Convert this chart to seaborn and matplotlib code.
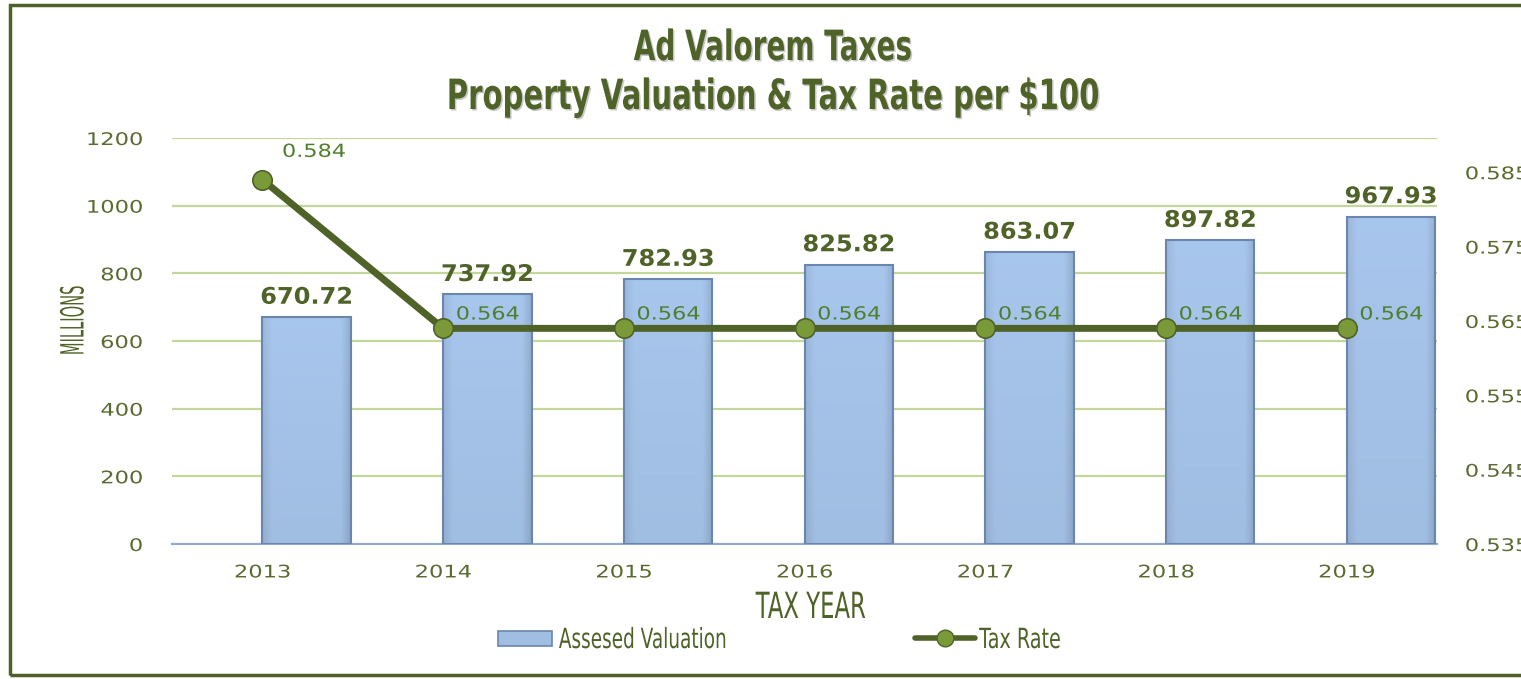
import matplotlib
matplotlib.use("Agg")
import matplotlib.pyplot as plt
from matplotlib.patches import Rectangle
from matplotlib.lines import Line2D
from matplotlib.transforms import Affine2D
import matplotlib.patheffects as pe
import matplotlib.colors as mcolors
import numpy as np
import pandas as pd
import seaborn as sns

# ---- data ----
years = ["2013", "2014", "2015", "2016", "2017", "2018", "2019"]
valuation = [670.72, 737.92, 782.93, 825.82, 863.07, 897.82, 967.93]
tax_rate = [0.584, 0.564, 0.564, 0.564, 0.564, 0.564, 0.564]
left_ticks = [0, 200, 400, 600, 800, 1000, 1200]
right_ticks = [0.535, 0.545, 0.555, 0.565, 0.575, 0.585]

sns.set_theme(style="white")
plt.rcParams["font.family"] = ["DejaVu Sans"]

OLIVE = "#4f6228"
TICK = "#5a6a30"
GRID = "#c4d79b"
BAR = "#a0bde2"
BAR_EDGE = "#6a86ad"
RATE_LBL = "#4f7f2c"
MARKER = "#7a9a3a"


class StretchX(pe.AbstractPathEffect):
    """Draw text scaled horizontally about an anchor, optionally with a drop shadow."""

    def __init__(self, sx, anchor="center", shadow=None):
        super().__init__()
        self.sx = sx
        self.anchor = anchor
        self.shadow = shadow

    def draw_path(self, renderer, gc, tpath, affine, rgbFace=None):
        xs = tpath.vertices[:, 0]
        if len(xs) == 0:
            return
        if self.anchor == "left":
            cx = 0.0
        elif self.anchor == "right":
            cx = xs.max()
        else:
            cx = 0.5 * (xs.min() + xs.max())
        aff = Affine2D().translate(-cx, 0).scale(self.sx, 1).translate(cx, 0) + affine
        if self.shadow is not None:
            g = renderer.new_gc()
            g.copy_properties(gc)
            g.set_alpha(0.55)
            renderer.draw_path(g, tpath, aff + Affine2D().translate(1.5, -1.5),
                               mcolors.to_rgba(self.shadow))
            g.restore()
        renderer.draw_path(gc, tpath, aff, rgbFace)


df = pd.DataFrame({"year": years, "valuation": valuation, "rate": tax_rate})

fig = plt.figure(figsize=(15.21, 6.79), dpi=100)
ax = fig.add_axes([172 / 1521, 1 - 544 / 679, (1437 - 172) / 1521, (544 - 138) / 679])

sns.barplot(data=df, x="year", y="valuation", ax=ax, color=BAR, width=0.49,
            edgecolor=BAR_EDGE, linewidth=1.5, saturation=1, zorder=3)

# shaded fill for each bar: lighter towards the top, darker towards the sides
base = np.array(mcolors.to_rgb(BAR))
ny, nx = 120, 60
yy = np.linspace(1, 0, ny)[:, None]
xx = np.linspace(-1, 1, nx)[None, :]
shade = 1 + 0.05 * yy - 0.08 * np.clip(np.abs(xx) - 0.78, 0, None) / 0.22
shade = shade - 0.05 * np.clip(xx - 0.8, 0, None) / 0.2
grad = np.clip(base[None, None, :] * shade[:, :, None], 0, 1)

for p in ax.patches:
    # bars sit to the right of each category centre
    p.set_x(p.get_x() + p.get_width() / 2)
    x0, w, h = p.get_x(), p.get_width(), p.get_height()
    im = ax.imshow(grad, extent=[x0, x0 + w, 0, h], aspect="auto", zorder=3.5,
                   interpolation="bilinear")
    im.set_clip_path(p)
    p.set_facecolor("none")
    p.set_zorder(4)

ax.set_xlim(-0.5, 6.5)
ax.set_ylim(0, 1200)
ax.set_yticks(left_ticks)
ax.set_yticklabels([str(t) for t in left_ticks])
ax.grid(axis="y", color=GRID, linewidth=1.6, zorder=0)
ax.set_axisbelow(True)
for s in ["top", "right", "left"]:
    ax.spines[s].set_visible(False)
ax.spines["bottom"].set_color("#8eaad0")
ax.spines["bottom"].set_linewidth(1.5)
ax.tick_params(axis="y", length=0, pad=21, labelsize=12.5, labelcolor=TICK)
ax.tick_params(axis="x", length=0, pad=14, labelsize=12.5, labelcolor=TICK)
ax.set_xlabel("")
ax.set_ylabel("")
for t in ax.get_yticklabels():
    t.set_path_effects([StretchX(1.3, "right")])
for t in ax.get_xticklabels():
    t.set_path_effects([StretchX(1.3, "center")])

bar_patches = [p for p in ax.patches]
for p, v in zip(bar_patches, valuation):
    ax.annotate(f"{v:.2f}", (p.get_x() + p.get_width() / 2, v),
                xytext=(0, 6), textcoords="offset points", ha="center", va="bottom",
                fontsize=16.5, fontweight="bold", color=OLIVE, zorder=5,
                path_effects=[StretchX(1.05)])

# tax rate on the secondary axis
ax2 = ax.twinx()
xs = np.arange(len(years))
sns.lineplot(x=xs, y=tax_rate, ax=ax2, color=OLIVE, linewidth=5, marker="o",
             markersize=14, markerfacecolor=MARKER, markeredgecolor=OLIVE,
             markeredgewidth=1.2, zorder=6)
ax2.set_ylim(0.535, 0.5896)
ax2.set_yticks(right_ticks)
ax2.set_yticklabels([f"{t:.3f}" for t in right_ticks])
ax2.tick_params(axis="y", length=0, pad=20, labelsize=12.5, labelcolor=TICK)
ax2.grid(False)
for s in ax2.spines.values():
    s.set_visible(False)
ax2.set_xlim(-0.5, 6.5)
for t in ax2.get_yticklabels():
    t.set_path_effects([StretchX(1.3, "left")])

for i, r in enumerate(tax_rate):
    off = (37, 20) if i == 0 else (32, 10)
    ax2.annotate(f"{r:.3f}", (xs[i], r), xytext=off, textcoords="offset points",
                 ha="center", va="center", fontsize=13, color=RATE_LBL, zorder=7,
                 path_effects=[StretchX(1.24)])

title_fx = [StretchX(0.70, "center", shadow="#9a9a9a")]
fig.text(773 / 1521, 1 - 48 / 679, "Ad Valorem Taxes", ha="center", va="center",
         fontsize=30, fontweight="bold", color=OLIVE,
         path_effects=[StretchX(0.67, "center", shadow="#9a9a9a")])
fig.text(773 / 1521, 1 - 97 / 679, "Property Valuation & Tax Rate per $100", ha="center",
         va="center", fontsize=30, fontweight="bold", color=OLIVE, path_effects=title_fx)
fig.text(75 / 1521, 1 - 320 / 679, "MILLIONS", rotation=90, ha="center", va="center",
         fontsize=23, color=OLIVE, path_effects=[StretchX(0.46)])
fig.text(811 / 1521, 1 - 608 / 679, "TAX YEAR", ha="center", va="center",
         fontsize=26, color=OLIVE, path_effects=[StretchX(0.63)])

# legend entries
bar_handle = Rectangle((0, 0), 1, 1, facecolor=BAR, edgecolor=BAR_EDGE, linewidth=1.2)
line_handle = Line2D([0], [0], color=OLIVE, linewidth=4, marker="o", markersize=12,
                     markerfacecolor=MARKER, markeredgecolor=OLIVE)
leg1 = fig.legend([bar_handle], ["Assesed Valuation"], loc="center left",
                  bbox_to_anchor=(498 / 1521, 1 - 640 / 679), frameon=False,
                  borderpad=0, borderaxespad=0, handlelength=1.94, handleheight=0.45,
                  handletextpad=0.25, prop={"size": 20})
leg2 = fig.legend([line_handle], ["Tax Rate"], loc="center left",
                  bbox_to_anchor=(915 / 1521, 1 - 640 / 679), frameon=False,
                  borderpad=0, borderaxespad=0, handlelength=2.16,
                  handletextpad=0.15, prop={"size": 20})
for lg, sx in ((leg1, 0.665), (leg2, 0.69)):
    for t in lg.get_texts():
        t.set_color(OLIVE)
        t.set_path_effects([StretchX(sx, "left")])

# outer frame
fig.patches.append(Rectangle((10 / 1521, 4 / 679), 1.2, 1 - 9 / 679,
                             transform=fig.transFigure, fill=False,
                             edgecolor=OLIVE, linewidth=2.5, zorder=10))

fig.savefig("out.png", dpi=100, facecolor="white")
